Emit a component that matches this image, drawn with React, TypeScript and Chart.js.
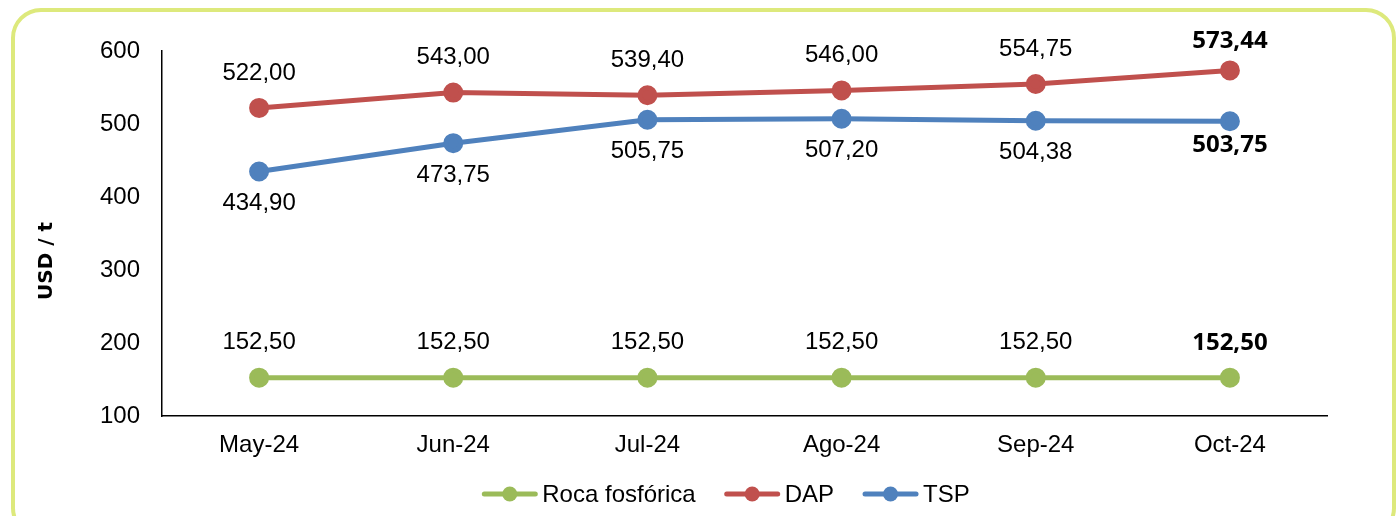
import React, { useEffect, useRef } from "react";
import { Chart, registerables } from "chart.js";

Chart.register(...registerables);

const categories = ["May-24", "Jun-24", "Jul-24", "Ago-24", "Sep-24", "Oct-24"];
const rocaValues = [152.5, 152.5, 152.5, 152.5, 152.5, 152.5];
const dapValues = [522.0, 543.0, 539.4, 546.0, 554.75, 573.44];
const tspValues = [434.9, 473.75, 505.75, 507.2, 504.38, 503.75];
const yTicks = [100, 200, 300, 400, 500, 600];

const seriesNames = ["Roca fosfórica", "DAP", "TSP"];
const seriesColors = ["#9bbb59", "#c0504d", "#4f81bd"];
// label offsets (px) relative to point: [normal, last]
const labelOffsets = [
  [-35, -35],
  [-35, -29],
  [32, 24],
];
const yTitle = "USD / t";

const NORMAL_FONT = "24px 'Liberation Sans', Arial, sans-serif";
const BOLD_FONT = "bold 24px 'Open Sans', 'Liberation Sans', sans-serif";
const TITLE_FONT = "bold 20px 'DejaVu Sans', Verdana, sans-serif";

const fmt = (v: number) => v.toFixed(2).replace(".", ",");

const dataLabelPlugin = {
  id: "dataLabels",
  afterDatasetsDraw(chart: any) {
    const ctx = chart.ctx;
    ctx.save();
    ctx.fillStyle = "#000";
    ctx.textAlign = "center";
    ctx.textBaseline = "middle";
    chart.data.datasets.forEach((ds: any, di: number) => {
      const meta = chart.getDatasetMeta(di);
      meta.data.forEach((pt: any, i: number) => {
        const last = i === ds.data.length - 1;
        ctx.font = last ? BOLD_FONT : NORMAL_FONT;
        const off = labelOffsets[di][last ? 1 : 0];
        ctx.fillText(fmt(ds.data[i]), pt.x, pt.y + off);
      });
    });
    ctx.save();
    ctx.font = TITLE_FONT;
    ctx.translate(47, 261);
    ctx.rotate(-Math.PI / 2);
    ctx.fillText(yTitle, 0, 0);
    ctx.restore();
    ctx.restore();
  },
};

const legendPlugin = {
  id: "customLegend",
  afterDraw(chart: any) {
    const ctx = chart.ctx;
    ctx.save();
    ctx.font = NORMAL_FONT;
    ctx.textBaseline = "middle";
    const lineLen = 55;
    const gapText = 5;
    const gapItem = 29;
    const widths = chart.data.datasets.map(
      (ds: any) => lineLen + gapText + ctx.measureText(ds.label).width
    );
    const total = widths.reduce((a: number, b: number) => a + b, 0) + gapItem * (widths.length - 1);
    let x = 726 - total / 2;
    const y = 494;
    chart.data.datasets.forEach((ds: any, i: number) => {
      ctx.strokeStyle = ds.borderColor;
      ctx.lineWidth = 5;
      ctx.lineCap = "round";
      ctx.beginPath();
      ctx.moveTo(x + 2, y);
      ctx.lineTo(x + lineLen - 2, y);
      ctx.stroke();
      ctx.fillStyle = ds.borderColor;
      ctx.beginPath();
      ctx.arc(x + lineLen / 2, y, 7.5, 0, Math.PI * 2);
      ctx.fill();
      ctx.fillStyle = "#000";
      ctx.textAlign = "left";
      ctx.fillText(ds.label, x + lineLen + gapText, y + 1);
      x += widths[i] + gapItem;
    });
    ctx.restore();
  },
};

export default function App() {
  const canvasRef = useRef<HTMLCanvasElement | null>(null);

  useEffect(() => {
    if (!canvasRef.current) return;
    const seriesData = [rocaValues, dapValues, tspValues];
    const chart = new Chart(canvasRef.current, {
      type: "line",
      data: {
        labels: categories,
        datasets: seriesData.map((d, i) => ({
          label: seriesNames[i],
          data: d,
          borderColor: seriesColors[i],
          backgroundColor: seriesColors[i],
          pointBackgroundColor: seriesColors[i],
          pointBorderColor: seriesColors[i],
          borderWidth: 5,
          pointRadius: 7.5,
          pointHoverRadius: 7.5,
          tension: 0,
          fill: false,
        })),
      },
      options: {
        responsive: false,
        animation: false,
        layout: { padding: { left: 20, right: 71, top: 51, bottom: 56 } },
        plugins: {
          legend: { display: false },
          tooltip: { enabled: false },
        },
        scales: {
          x: {
            offset: true,
            grid: { display: false, drawTicks: false },
            border: { display: true, color: "#000", width: 1.5 },
            ticks: {
              color: "#000",
              padding: 15,
              font: { family: "'Liberation Sans', Arial, sans-serif", size: 24 },
              maxRotation: 0,
            },
            afterFit: (s: any) => {
              s.height = 44;
            },
          },
          y: {
            min: 100,
            max: 600,
            afterBuildTicks: (s: any) => {
              s.ticks = yTicks.map((v) => ({ value: v }));
            },
            grid: { display: false, drawTicks: false },
            border: { display: true, color: "#000", width: 1.5 },
            ticks: {
              color: "#000",
              padding: 22,
              font: { family: "'Liberation Sans', Arial, sans-serif", size: 24 },
            },
            title: { display: false },
            afterFit: (s: any) => {
              s.width = 142;
            },
          },
        },
      },
      plugins: [dataLabelPlugin, legendPlugin],
    });
    return () => chart.destroy();
  }, []);

  return (
    <div
      style={{
        position: "absolute",
        left: 0,
        top: 0,
        width: 1398,
        height: 516,
        overflow: "hidden",
        background: "#fff",
      }}
    >
      <div
        style={{
          position: "absolute",
          left: 11,
          top: 8,
          width: 1385,
          height: 530,
          boxSizing: "border-box",
          border: "4.5px solid #dde97c",
          borderRadius: 30,
        }}
      />
      <canvas
        ref={canvasRef}
        width={1398}
        height={516}
        style={{ position: "absolute", left: 0, top: 0, width: 1398, height: 516 }}
      />
    </div>
  );
}
